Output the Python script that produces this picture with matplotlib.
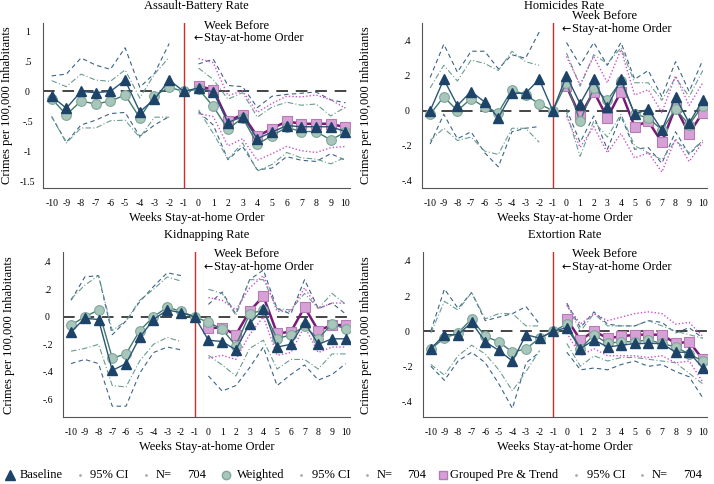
import numpy as np
import matplotlib.pyplot as plt
from matplotlib.lines import Line2D

plt.rcParams['font.family'] = ['Liberation Serif', 'DejaVu Serif']

weeks = list(range(-10, 11))
post_weeks = list(range(0, 11))
titles = ["Assault-Battery Rate", "Homicides Rate", "Kidnapping Rate", "Extortion Rate"]

# point estimates (week -1 is the reference week)
assault_base = [-0.08, -0.28, 0.0, -0.02, 0.0, 0.19, -0.34, -0.13, 0.19, 0.0,
                0.06, -0.01, -0.52, -0.42, -0.79, -0.68, -0.57, -0.59, -0.59, -0.59, -0.67]
assault_wtd = [-0.12, -0.39, -0.16, -0.21, -0.16, -0.06, -0.44, -0.07, 0.07, 0.0,
               0.04, -0.25, -0.63, -0.44, -0.88, -0.74, -0.60, -0.67, -0.67, -0.81, -0.68]
assault_grp = [0.09, 0.03, -0.49, -0.39, -0.75, -0.62, -0.50, -0.54, -0.54, -0.54, -0.60]

homic_base = [0.0, 0.18, 0.03, 0.11, 0.05, -0.04, 0.10, 0.10, 0.18, 0.0,
              0.20, 0.04, 0.18, 0.02, 0.18, -0.02, 0.01, -0.11, 0.08, -0.07, 0.06]
homic_wtd = [-0.02, 0.08, 0.0, 0.07, 0.02, -0.01, 0.12, 0.09, 0.04, 0.0,
             0.16, -0.06, 0.13, 0.06, 0.17, -0.02, -0.04, -0.11, 0.01, -0.08, 0.03]
homic_grp = [0.14, -0.03, 0.11, -0.04, 0.11, -0.09, -0.06, -0.18, 0.02, -0.13, -0.01]

kidnap_base = [-0.11, -0.01, -0.02, -0.39, -0.34, -0.15, -0.02, 0.05, 0.03, 0.0,
               -0.17, -0.18, -0.24, -0.05, 0.06, -0.22, -0.20, -0.04, -0.20, -0.16, -0.16]
kidnap_wtd = [-0.06, 0.0, 0.05, -0.30, -0.27, -0.10, 0.0, 0.07, 0.04, 0.0,
              -0.04, -0.09, -0.21, 0.02, 0.05, -0.16, -0.13, -0.07, -0.16, -0.05, -0.09]
kidnap_grp = [-0.08, -0.08, -0.13, 0.04, 0.15, -0.12, -0.11, 0.07, -0.10, -0.06, -0.06]

extort_base = [-0.10, -0.02, -0.02, 0.05, -0.06, -0.11, -0.17, -0.02, -0.04, 0.0,
               0.02, -0.10, -0.05, -0.09, -0.08, -0.07, -0.07, -0.07, -0.12, -0.12, -0.21]
extort_wtd = [-0.10, -0.04, -0.01, 0.07, -0.03, -0.06, -0.12, -0.10, -0.04, 0.0,
              0.04, -0.10, -0.02, -0.07, -0.06, -0.06, -0.05, -0.07, -0.09, -0.13, -0.17]
extort_grp = [0.07, -0.05, 0.0, -0.04, -0.03, -0.02, -0.02, -0.02, -0.07, -0.06, -0.16]

# 95% CI half-widths (nan at the reference week)
nan = np.nan
assault_base_hw = [0.34, 0.57, 0.56, 0.46, 0.37, 0.54, 0.41, 0.43, 0.61, nan,
                   0.40, 0.55, 0.62, 0.50, 0.52, 0.60, 0.52, 0.56, 0.58, 0.45, 0.48]
assault_wtd_hw = [0.30, 0.47, 0.45, 0.40, 0.33, 0.42, 0.33, 0.36, 0.50, nan,
                  0.35, 0.45, 0.50, 0.42, 0.45, 0.48, 0.42, 0.44, 0.46, 0.40, 0.42]
assault_grp_hw = [0.46, 0.45, 0.42, 0.40, 0.40, 0.42, 0.42, 0.45, 0.48, 0.40, 0.32]

homic_base_hw = [0.19, 0.20, 0.19, 0.23, 0.29, 0.28, 0.22, 0.20, 0.27, nan,
                 0.19, 0.22, 0.21, 0.24, 0.21, 0.20, 0.22, 0.19, 0.20, 0.18, 0.23]
homic_wtd_hw = [0.15, 0.18, 0.17, 0.22, 0.25, 0.24, 0.22, 0.19, 0.22, nan,
                0.17, 0.20, 0.19, 0.21, 0.19, 0.18, 0.20, 0.17, 0.18, 0.16, 0.20]
homic_grp_hw = [0.17, 0.18, 0.20, 0.20, 0.24, 0.18, 0.18, 0.17, 0.18, 0.16, 0.17]

kidnap_base_hw = [0.23, 0.30, 0.32, 0.26, 0.31, 0.26, 0.24, 0.27, 0.27, nan,
                  0.26, 0.36, 0.26, 0.32, 0.28, 0.28, 0.22, 0.31, 0.26, 0.26, 0.18]
kidnap_wtd_hw = [0.19, 0.23, 0.25, 0.20, 0.24, 0.22, 0.20, 0.22, 0.22, nan,
                 0.24, 0.26, 0.22, 0.25, 0.22, 0.22, 0.18, 0.24, 0.22, 0.22, 0.18]
kidnap_grp_hw = [0.22, 0.20, 0.18, 0.17, 0.15, 0.16, 0.15, 0.14, 0.16, 0.16, 0.16]

extort_base_hw = [0.10, 0.26, 0.15, 0.17, 0.12, 0.19, 0.27, 0.16, 0.08, nan,
                  0.14, 0.12, 0.16, 0.13, 0.11, 0.10, 0.13, 0.12, 0.11, 0.14, 0.17]
extort_wtd_hw = [0.09, 0.21, 0.13, 0.15, 0.10, 0.16, 0.22, 0.13, 0.07, nan,
                 0.11, 0.10, 0.12, 0.10, 0.09, 0.09, 0.11, 0.10, 0.09, 0.11, 0.13]
extort_grp_hw = [0.08, 0.09, 0.10, 0.10, 0.11, 0.12, 0.13, 0.12, 0.11, 0.11, 0.13]

panels = [
    (assault_base, assault_wtd, assault_grp, assault_base_hw, assault_wtd_hw, assault_grp_hw),
    (homic_base, homic_wtd, homic_grp, homic_base_hw, homic_wtd_hw, homic_grp_hw),
    (kidnap_base, kidnap_wtd, kidnap_grp, kidnap_base_hw, kidnap_wtd_hw, kidnap_grp_hw),
    (extort_base, extort_wtd, extort_grp, extort_base_hw, extort_wtd_hw, extort_grp_hw),
]
yticks = [[1, 0.5, 0, -0.5, -1, -1.5], [0.4, 0.2, 0, -0.2, -0.4],
          [0.4, 0.2, 0, -0.2, -0.4, -0.6], [0.4, 0.2, 0, -0.2, -0.4]]
ytick_labels = [["1", ".5", "0", "-.5", "-1", "-1.5"], [".4", ".2", "0", "-.2", "-.4"],
                [".4", ".2", "0", "-.2", "-.4", "-.6"], [".4", ".2", "0", "-.2", "-.4"]]
ylims = [(-1.61, 1.14), (-0.44, 0.5), (-0.73, 0.47), (-0.49, 0.45)]

navy = "#1d4468"
teal = "#3f7a6c"
teal_face = "#a9c6bb"
purple = "#7a1a78"
pink_face = "#d6a2d6"
pink = "#cc55cc"

fig = plt.figure(figsize=(7.14, 4.84), dpi=100)
rects = [[0.060, 0.612, 0.430, 0.340], [0.591, 0.612, 0.399, 0.340],
         [0.088, 0.138, 0.402, 0.341], [0.592, 0.138, 0.398, 0.341]]
ylab_x = [-0.098, -0.175, -0.165, -0.180]
note_y = [(0.985, 0.912), (1.042, 0.962), (0.988, 0.912), (0.988, 0.912)]

for i, (base, wtd, grp, bhw, whw, ghw) in enumerate(panels):
    ax = fig.add_axes(rects[i])
    b, w, g = np.array(base), np.array(wtd), np.array(grp)
    bh, wh, gh = np.array(bhw), np.array(whw), np.array(ghw)

    ax.axhline(0, color="#444444", lw=1.4, ls=(0, (6, 4)), zorder=1)
    ax.axvline(-1, color="#d42a2a", lw=1.0, zorder=1)

    for sgn in (1, -1):
        ax.plot(weeks, b + sgn * bh, color="#3b6488", lw=0.8, ls=(0, (4, 3)), zorder=2)
        ax.plot(weeks, w + sgn * wh, color="#6a9c90", lw=0.8, ls=(0, (5, 2, 1, 2)), zorder=2)
        ax.plot(post_weeks, g + sgn * gh, color=pink, lw=1.0, ls=(0, (1, 1.5)), zorder=2)

    ax.plot(post_weeks, g, color=purple, lw=1.8, marker="s", ms=7,
            mfc=pink_face, mec="#b77ab7", mew=0.8, zorder=3)
    ax.plot(weeks, w, color=teal, lw=1.0, marker="o", ms=7,
            mfc=teal_face, mec="#7fa89a", mew=0.8, zorder=4)
    ax.plot(weeks, b, color="#2b5578", lw=1.0, marker="^", ms=7,
            mfc=navy, mec=navy, zorder=5)

    ax.set_xlim(-10.6, 10.3)
    ax.set_ylim(*ylims[i])
    ax.set_xticks(weeks)
    ax.set_xticklabels([str(v) for v in weeks], fontsize=7)
    ax.set_yticks(yticks[i])
    ax.set_yticklabels(ytick_labels[i], fontsize=7, ha="center")
    ax.tick_params(axis="x", length=0, pad=8)
    ax.tick_params(axis="y", length=0, pad=11)
    for s in ("top", "right"):
        ax.spines[s].set_visible(False)
    for s in ("left", "bottom"):
        ax.spines[s].set_color("#555555")
        ax.spines[s].set_linewidth(0.8)

    ax.set_title(titles[i], fontsize=9, pad=10)
    ax.set_xlabel("Weeks Stay-at-home Order", fontsize=9, labelpad=3)
    ax.set_ylabel("Crimes per 100,000 Inhabitants", fontsize=9)
    ax.yaxis.set_label_coords(ylab_x[i], 0.5)

    ax.text(0.525, note_y[i][0], "Week Before", transform=ax.transAxes,
            fontsize=9, ha="left", va="center")
    ax.text(0.525, note_y[i][1], "Stay-at-home Order", transform=ax.transAxes,
            fontsize=9, ha="left", va="center")
    ax.text(0.522, note_y[i][1], "\u2190", transform=ax.transAxes,
            fontsize=8, ha="right", va="center", family="DejaVu Sans")

# legend row, laid out by hand like the Stata legend
ly = 0.018
marker_items = [("^", navy, navy, 7, 0.014), ("o", teal_face, "#7fa89a", 6, 0.317),
                ("s", pink_face, "#b77ab7", 6, 0.620)]
dot_x = [0.112, 0.204, 0.422, 0.514, 0.807, 0.899]
label_items = [(0.028, "Baseline"), (0.126, "95% CI"), (0.218, "N="), (0.262, "704"),
               (0.332, "Weighted"), (0.437, "95% CI"), (0.528, "N="), (0.570, "704"),
               (0.630, "Grouped Pre & Trend"), (0.822, "95% CI"), (0.913, "N="), (0.957, "704")]
for mk, fc, ec, ms, mx in marker_items:
    fig.add_artist(Line2D([mx], [ly], marker=mk, ms=ms, mfc=fc, mec=ec, ls="none",
                          transform=fig.transFigure))
for dx in dot_x:
    fig.add_artist(Line2D([dx], [ly], marker=".", ms=2, color="#aaaaaa", ls="none",
                          transform=fig.transFigure))
for tx, lab in label_items:
    fig.text(tx, ly, lab, fontsize=9, ha="left", va="center")

fig.savefig("out.png", dpi=100)
